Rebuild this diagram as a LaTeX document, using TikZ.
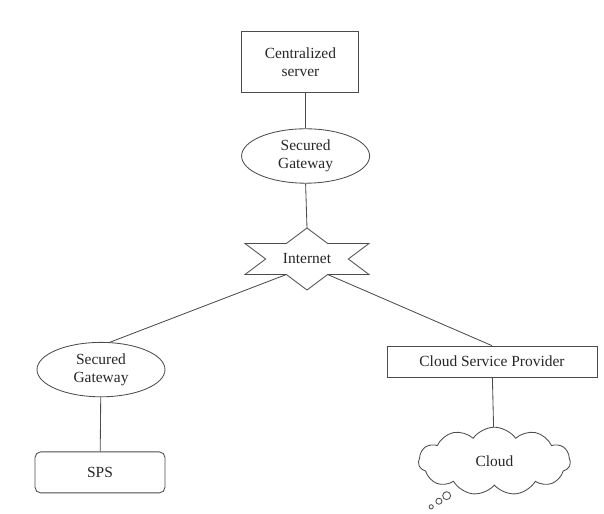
\documentclass[tikz,border=0pt]{standalone}
\usepackage{fontspec}
\setmainfont{Liberation Serif}
\usetikzlibrary{shapes.geometric,shapes.symbols,shapes.callouts}

\begin{document}
\begin{tikzpicture}[every node/.style={font=\fontsize{11}{13}\selectfont, text=black!85, align=center},
  box/.style={draw=black!70, line width=0.6pt, inner sep=0pt},
  gate/.style={ellipse, draw=black!70, line width=0.6pt, inner sep=0pt, minimum width=3.2cm, minimum height=1.36cm},
  link/.style={draw=black!70, line width=0.6pt}]
\useasboundingbox (0,0) rectangle (15.1,12.85);

\node[box, minimum width=2.925cm, minimum height=1.525cm] (server) at (7.51,11.29) {Centralized\\server};
\node[gate] (gw1) at (7.64,8.95) {Secured\\Gateway};
\node (net) at (7.675,6.375) {Internet};
\node[gate] (gw2) at (2.525,3.61) {Secured\\Gateway};
\node[box, rounded corners=4pt, minimum width=3.25cm, minimum height=1.025cm] (sps) at (2.5,1.04) {SPS};
\node[box, minimum width=5.25cm, minimum height=0.775cm] (csp) at (12.3,3.81) {Cloud Service Provider};
\node[cloud callout, draw=black!70, line width=0.6pt, cloud puffs=11, cloud puff arc=110, aspect=2.2,
  minimum width=3.8cm, minimum height=1.7cm, callout absolute pointer={(10.78,0.18)},
  callout pointer segments=3, callout pointer start size=10pt and 7pt,
  callout pointer end size=4pt and 3pt] (cloud) at (12.36,1.32) {Cloud};

% star round the internet label
\foreach \i in {0,2,...,10}
  \path (net) ++({90-30*\i}:1.79 and 0.775) coordinate (s\i);
\foreach \i in {1,3,...,11}
  \path (net) ++({90-30*\i}:1.033 and 0.4475) coordinate (s\i);
\draw[link] (s0) \foreach \i in {1,...,11} {-- (s\i)} -- cycle;

\draw[link] (server.south -| gw1.north) -- (gw1.north);
\draw[link] (gw1.south) -- (s0);
\draw[link] (s7) -- (gw2.72);
\draw[link] (s5) -- (csp.north);
\draw[link] (gw2) -- (sps);
\draw[link] (csp) -- (cloud);
\end{tikzpicture}
\end{document}
